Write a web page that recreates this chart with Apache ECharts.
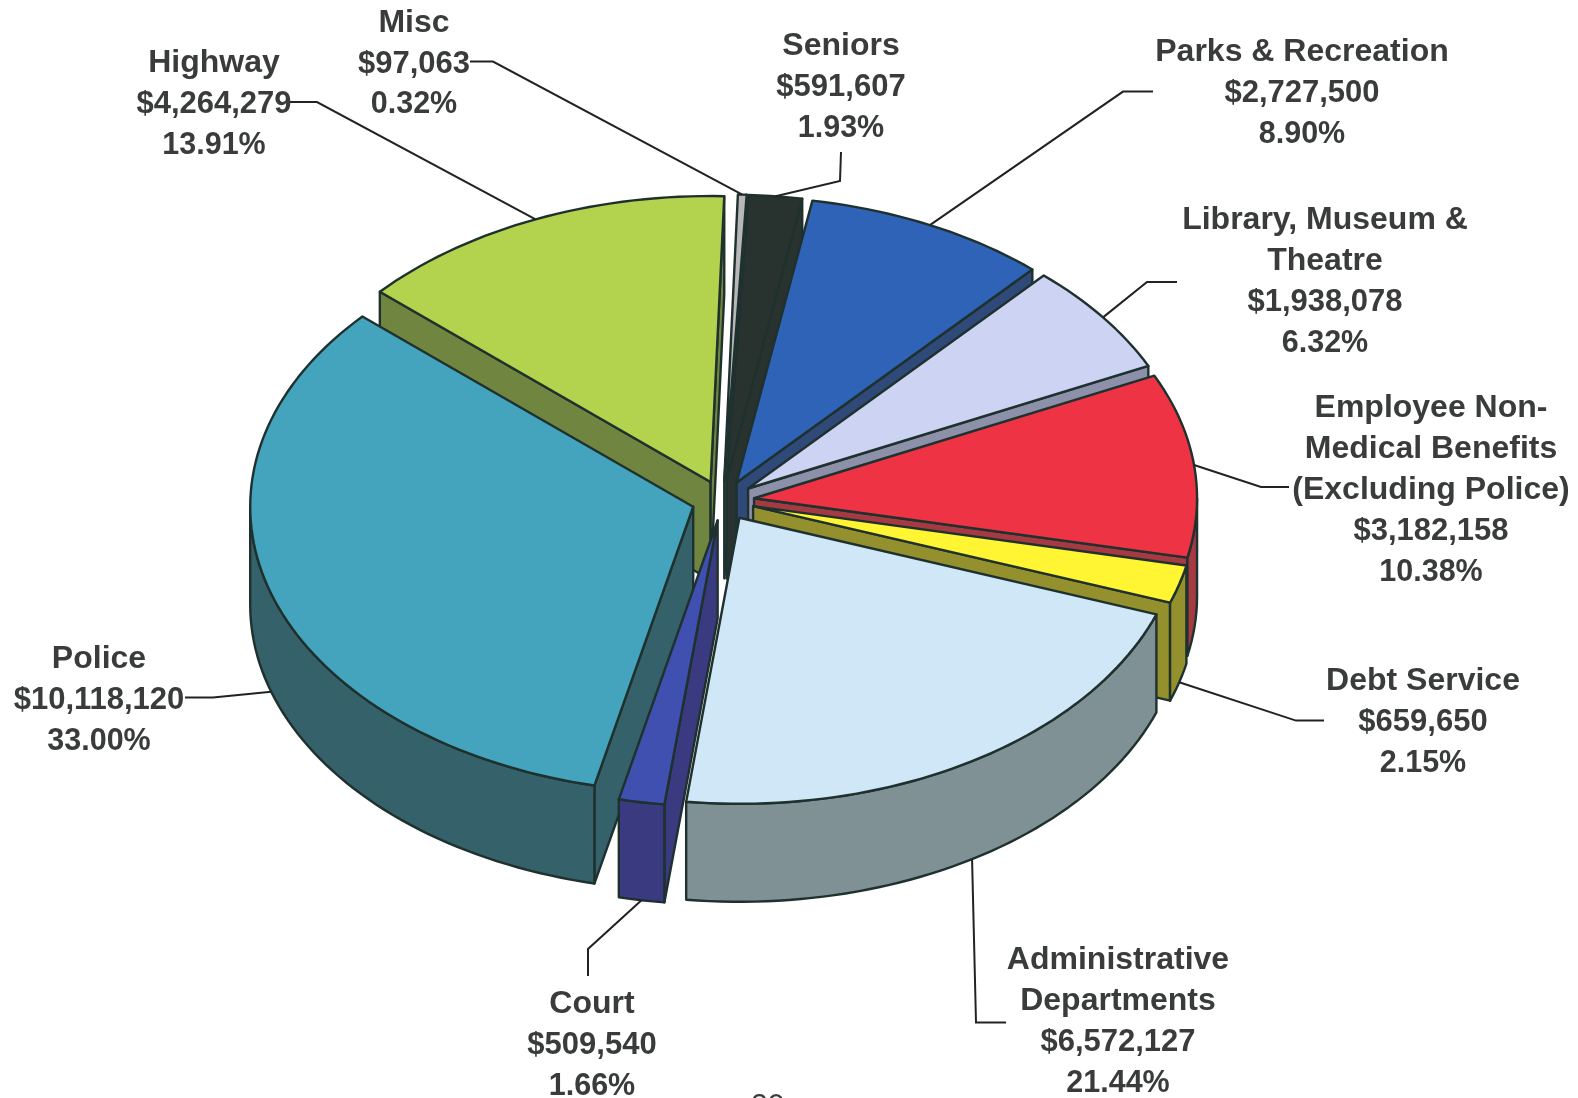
<!DOCTYPE html>
<html>
<head>
<meta charset="utf-8">
<title>General Fund Expenditures</title>
<style>
  html, body { margin: 0; padding: 0; background: #fff; overflow: hidden; }
  #chart { width: 1578px; height: 1098px; }
</style>
<script src="https://cdn.jsdelivr.net/npm/echarts@6/dist/echarts.min.js"></script>
</head>
<body>
<div id="chart"></div>
<script>
// Budget categories, clockwise from the top of the pie.
const categories = [
  'Seniors', 'Parks & Recreation', 'Library, Museum & Theatre',
  'Employee Non-Medical Benefits (Excluding Police)', 'Debt Service',
  'Administrative Departments', 'Court', 'Police', 'Highway', 'Misc'
];
const amounts = [591607, 2727500, 1938078, 3182158, 659650, 6572127, 509540, 10118120, 4264279, 97063];
const nameLines = [
  ['Seniors'], ['Parks & Recreation'], ['Library, Museum &', 'Theatre'],
  ['Employee Non-', 'Medical Benefits', '(Excluding Police)'], ['Debt Service'],
  ['Administrative', 'Departments'], ['Court'], ['Police'], ['Highway'], ['Misc']
];

// Fill colours for the top face and for the extruded walls.
const topColors = ['#28332f', '#2e63b8', '#ccd3f3', '#ee3344', '#fff533', '#cfe7f7', '#4050b0', '#44a3bd', '#b3d34f', '#b8b8b8'];
const wallColors = ['#28332f', '#2f4a78', '#8c90a8', '#a53a42', '#94902e', '#7f9194', '#3a3a80', '#35616a', '#6f8540', '#777777'];

// Pie geometry: tilted disc with every slice pulled out along its own bisector.
const pie = { cx: 723, cy: 500.6, rx: 443, ry: 286, depth: 98, explode: 0.0706, startDeg: 2.9 };
const outline = '#1f312e';
const textColor = '#3a3c3c';
const lineHeight = 41;

// Label block anchors (centre x, first line y) and leader-line routes, by slice.
const labelAnchors = [
  [841, 46.5], [1302, 52.5], [1325, 220.5], [1431, 408.5], [1423, 681.5],
  [1118, 960.5], [592, 1004.5], [99, 659.5], [214, 63.5], [414, 23]
];
const leaderRoutes = [
  [[841, 152], [840, 181]],
  [[1153, 91.6], [1123, 91.6]],
  [[1177, 282], [1147, 282]],
  [[1289, 487], [1261, 487]],
  [[1324, 720.6], [1296, 720.6]],
  [[1006, 1022.5], [976, 1022.5]],
  [[588, 976], [588, 949]],
  [[185, 697.4], [213, 697.4]],
  [[290, 102], [317, 102]],
  [[470, 61.5], [493, 61.5]]
];

const total = amounts.reduce((a, b) => a + b, 0);
const RAD = Math.PI / 180;

// Angular extent of each slice, in degrees clockwise from twelve o'clock.
let cursor = pie.startDeg;
const spans = amounts.map(v => {
  const from = cursor;
  cursor += v / total * 360;
  return { from, to: cursor, mid: (from + cursor) / 2 };
});

// Projects a point of slice i (angle, radius fraction, drop below top face) to the screen.
function project(i, deg, radius, drop) {
  const m = spans[i].mid * RAD, a = deg * RAD;
  return [
    pie.cx + pie.rx * (pie.explode * Math.sin(m) + radius * Math.sin(a)),
    pie.cy - pie.ry * (pie.explode * Math.cos(m) + radius * Math.cos(a)) + drop
  ];
}

function arcPoints(i, from, to, drop) {
  const steps = Math.max(2, Math.ceil((to - from) / 1.5));
  const pts = [];
  for (let s = 0; s <= steps; s++) pts.push(project(i, from + (to - from) * s / steps, 1, drop));
  return pts;
}

function face(points, fill) {
  return {
    type: 'polygon',
    shape: { points },
    style: { fill, stroke: outline, lineWidth: 2.4, lineJoin: 'round' }
  };
}

function radialWall(i, deg, fill) {
  return face([
    project(i, deg, 0, 0), project(i, deg, 1, 0),
    project(i, deg, 1, pie.depth), project(i, deg, 0, pie.depth)
  ], fill);
}

// Front-facing portion of the rim lies between 90 and 270 degrees.
function rimWall(i, fill) {
  const from = Math.max(spans[i].from, 90), to = Math.min(spans[i].to, 270);
  if (to <= from) return [];
  return [face(arcPoints(i, from, to, 0).concat(arcPoints(i, from, to, pie.depth).reverse()), fill)];
}

function renderSlice(params, api) {
  const i = api.value(0);
  const s = spans[i];
  const top = [project(i, s.from, 0, 0)].concat(arcPoints(i, s.from, s.to, 0));
  const walls = [];
  // A cut face shows only when it turns towards the viewer.
  if (Math.sin(s.from * RAD) < 0) walls.push(radialWall(i, s.from, wallColors[i]));
  if (Math.sin(s.to * RAD) > 0) walls.push(radialWall(i, s.to, wallColors[i]));
  return {
    type: 'group',
    children: [...walls, ...rimWall(i, wallColors[i]), face(top, topColors[i])]
  };
}

function formatAmount(v) { return '$' + v.toLocaleString('en-US'); }
function formatShare(v) { return (v / total * 100).toFixed(2) + '%'; }

const fontStack = '"Liberation Sans", Arial, sans-serif';

function renderLabel(params, api) {
  const i = api.value(0);
  const mid = spans[i].mid;
  // Leaders meet the rim's lower edge on the front half and the top edge at the back.
  const attach = project(i, mid, 1, Math.cos(mid * RAD) < 0 ? pie.depth : 0);
  const lines = nameLines[i].map(text => ({ text, size: 32 }))
    .concat([{ text: formatAmount(amounts[i]), size: 31 }, { text: formatShare(amounts[i]), size: 30.5 }]);
  const children = [{
    type: 'polyline',
    shape: { points: leaderRoutes[i].concat([attach]) },
    style: { fill: null, stroke: '#222', lineWidth: 2 }
  }];
  lines.forEach((line, n) => children.push({
    type: 'text',
    style: {
      text: line.text,
      x: labelAnchors[i][0],
      y: labelAnchors[i][1] + n * lineHeight,
      align: 'center',
      verticalAlign: 'middle',
      fill: textColor,
      font: 'bold ' + line.size + 'px ' + fontStack
    }
  }));
  return { type: 'group', children };
}

// Back slices are painted first so that nearer ones overlap them.
const paintOrder = amounts.map((_, i) => i)
  .sort((a, b) => Math.cos(spans[b].mid * RAD) - Math.cos(spans[a].mid * RAD));

const chart = echarts.init(document.getElementById('chart'), null, { renderer: 'canvas' });
chart.setOption({
  backgroundColor: '#ffffff',
  animation: false,
  series: [
    {
      type: 'custom',
      coordinateSystem: 'none',
      silent: true,
      clip: false,
      data: paintOrder.map(i => [i, amounts[i], categories[i]]),
      renderItem: renderSlice
    },
    {
      type: 'custom',
      coordinateSystem: 'none',
      silent: true,
      clip: false,
      z: 3,
      data: amounts.map((v, i) => [i, v, categories[i]]),
      renderItem: renderLabel
    }
  ],
  graphic: [{
    type: 'text',
    left: 751,
    top: 1091,
    style: { text: '20', fill: textColor, font: '30px ' + fontStack }
  }]
});
</script>
</body>
</html>
